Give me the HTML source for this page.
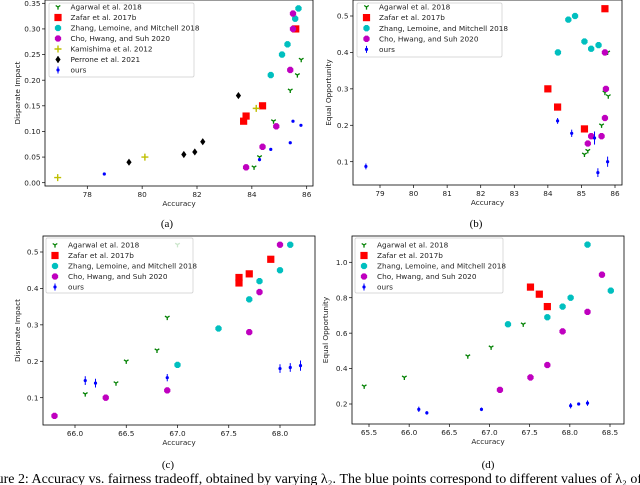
<!DOCTYPE html>
<html><head><meta charset="utf-8">
<style>
html,body{margin:0;padding:0;background:#fff;}
svg{display:block;font-family:"DejaVu Sans","Liberation Sans",sans-serif;}
</style></head>
<body>
<svg id="fig" width="640" height="485" viewBox="0 0 640 485" xmlns="http://www.w3.org/2000/svg">
<text x="167" y="227" font-family="Liberation Serif,serif" font-size="11" text-anchor="middle">(a)</text>
<text x="476" y="227" font-family="Liberation Serif,serif" font-size="11" text-anchor="middle">(b)</text>
<text x="168" y="468" font-family="Liberation Serif,serif" font-size="11" text-anchor="middle">(c)</text>
<text x="488" y="468" font-family="Liberation Serif,serif" font-size="11" text-anchor="middle">(d)</text>
<text x="-22" y="483" font-family="Liberation Serif,serif" font-size="13.5" textLength="664" lengthAdjust="spacingAndGlyphs">Figure 2: Accuracy vs. fairness tradeoff, obtained by varying λ₂. The blue points correspond to different values of λ₂ of</text>
</svg>
<script>
// ---- Panel (a) data ----
const aAgarwalX=[85.8,85.66,85.4,84.79,84.28,84.08];
const aAgarwalY=[0.24,0.21,0.18,0.12,0.05,0.03];
const aZafarX=[85.6,84.39,83.79,83.7];
const aZafarY=[0.30,0.15,0.13,0.12];
const aZhangX=[85.7,85.58,85.3,85.1,84.69];
const aZhangY=[0.34,0.32,0.27,0.25,0.21];
const aChoX=[85.5,85.5,85.4,84.89,84.39,83.79];
const aChoY=[0.33,0.30,0.22,0.11,0.07,0.03];
const aKamX=[76.92,80.1,84.16];
const aKamY=[0.01,0.05,0.145];
const aPerX=[79.52,81.52,81.92,82.21,83.51];
const aPerY=[0.04,0.055,0.06,0.08,0.17];
const aPerErr=[0.005,0.005,0.005,0.005,0.005];
const aOursX=[78.62,84.28,84.69,85.4,85.5,85.79];
const aOursY=[0.017,0.045,0.065,0.078,0.12,0.112];
const aOursErr=[0.002,0.003,0.002,0.002,0.002,0.002];
const aXTicks=[78,80,82,84,86];
const aYTicks=[0,0.05,0.10,0.15,0.20,0.25,0.30,0.35];
// ---- Panel (b) data ----
const bAgarwalX=[85.78,85.7,85.8,85.6,85.19,85.09];
const bAgarwalY=[0.40,0.29,0.28,0.20,0.13,0.12];
const bZafarX=[85.7,84.0,84.29,85.09];
const bZafarY=[0.52,0.30,0.25,0.19];
const bZhangX=[84.3,84.61,84.81,85.09,85.29,85.51];
const bZhangY=[0.40,0.49,0.50,0.43,0.41,0.42];
const bChoX=[85.7,85.73,85.7,85.29,85.6,85.19];
const bChoY=[0.40,0.30,0.22,0.17,0.17,0.15];
const bOursX=[78.58,84.29,84.71,85.39,85.49,85.78];
const bOursY=[0.087,0.212,0.178,0.165,0.07,0.10];
const bOursErr=[0.008,0.008,0.01,0.018,0.012,0.014];
const bXTicks=[79,80,81,82,83,84,85,86];
const bYTicks=[0.1,0.2,0.3,0.4,0.5];
// ---- Panel (c) data ----
const cAgarwalX=[66.1,66.4,66.5,66.8,66.9,67.0];
const cAgarwalY=[0.11,0.14,0.20,0.23,0.32,0.52];
const cZafarX=[67.6,67.6,67.7,67.91];
const cZafarY=[0.415,0.43,0.44,0.48];
const cZhangX=[67.4,67.0,67.7,67.8,68.0,68.1];
const cZhangY=[0.29,0.19,0.37,0.42,0.45,0.52];
const cChoX=[65.8,66.3,66.9,67.7,67.8,68.0];
const cChoY=[0.05,0.10,0.12,0.28,0.39,0.52];
const cOursX=[66.1,66.2,66.9,68.0,68.1,68.2];
const cOursY=[0.147,0.14,0.155,0.18,0.183,0.188];
const cOursErr=[0.012,0.012,0.01,0.012,0.012,0.014];
const cXTicks=[66.0,66.5,67.0,67.5,68.0];
const cYTicks=[0.1,0.2,0.3,0.4,0.5];
// ---- Panel (d) data ----
const dAgarwalX=[65.44,65.94,66.73,67.02,67.42];
const dAgarwalY=[0.30,0.35,0.47,0.52,0.65];
const dZafarX=[67.51,67.62,67.72];
const dZafarY=[0.86,0.82,0.75];
const dZhangX=[67.23,67.72,67.91,68.01,68.22,68.51];
const dZhangY=[0.65,0.69,0.75,0.80,1.10,0.84];
const dChoX=[67.13,67.51,67.72,67.91,68.22,68.4];
const dChoY=[0.28,0.35,0.42,0.61,0.72,0.93];
const dOursX=[66.12,66.22,66.9,68.01,68.11,68.22];
const dOursY=[0.17,0.15,0.17,0.19,0.20,0.205];
const dOursErr=[0.015,0.01,0.01,0.015,0.008,0.015];
const dXTicks=[65.5,66.0,66.5,67.0,67.5,68.0,68.5];
const dYTicks=[0.2,0.4,0.6,0.8,1.0];

const NS="http://www.w3.org/2000/svg";
const svg=document.getElementById('fig');
function mk(tag,attrs,parent){const e=document.createElementNS(NS,tag);for(const k in attrs)e.setAttribute(k,attrs[k]);(parent||svg).appendChild(e);return e;}
const COL={agarwal:'#008000',zafar:'#ff0000',zhang:'#00bfbf',cho:'#bf00bf',kam:'#bfbf00',per:'#000000',ours:'#0000ff'};

function marker(g,type,x,y,col,err){
  let e;
  if(type==='tri'){e=mk('path',{d:`M${x},${y} L${x},${y+2.6} M${x},${y} L${x-2.3},${y-1.5} M${x},${y} L${x+2.3},${y-1.5}`,stroke:col,'stroke-width':1.3,fill:'none'},g);}
  else if(type==='sq'){e=mk('rect',{x:x-3.6,y:y-3.6,width:7.2,height:7.2,fill:col},g);}
  else if(type==='oct'){let p=[];for(let i=0;i<8;i++){const a=Math.PI/8+i*Math.PI/4;p.push((x+3.4*Math.cos(a)).toFixed(2)+','+(y+3.4*Math.sin(a)).toFixed(2));}e=mk('polygon',{points:p.join(' '),fill:col},g);}
  else if(type==='plus'){e=mk('path',{d:`M${x-3.5},${y} L${x+3.5},${y} M${x},${y-3.5} L${x},${y+3.5}`,stroke:col,'stroke-width':1.4},g);}
  else if(type==='dia'){if(err)mk('line',{x1:x,x2:x,y1:err[0],y2:err[1],stroke:col,'stroke-width':1},g);e=mk('polygon',{points:`${x},${y-3.6} ${x+2.6},${y} ${x},${y+3.6} ${x-2.6},${y}`,fill:col},g);}
  else if(type==='dot'){if(err)mk('line',{x1:x,x2:x,y1:err[0],y2:err[1],stroke:col,'stroke-width':1},g);e=mk('circle',{cx:x,cy:y,r:1.6,fill:col},g);}
  return e;
}

function panel(id,cfg,series,xt,yt,xfmt,yfmt,ylabel,legend){
  const g=mk('g',{});
  
  
  const kx=(cfg.xr[1][1]-cfg.xr[0][1])/(cfg.xr[1][0]-cfg.xr[0][0]);
  const ky=(cfg.yr[1][1]-cfg.yr[0][1])/(cfg.yr[1][0]-cfg.yr[0][0]);
  const sx=v=>cfg.xr[0][1]+(v-cfg.xr[0][0])*kx;
  const sy=v=>cfg.yr[0][1]+(v-cfg.yr[0][0])*ky;
  // ticks
  xt.forEach(v=>{const x=sx(v);
    mk('line',{x1:x,x2:x,y1:cfg.b,y2:cfg.b+3,stroke:'#000','stroke-width':0.7},g);
    const t=mk('text',{x:x,y:cfg.b+11,'font-size':7.3,fill:'#222','text-anchor':'middle'},g);t.textContent=xfmt(v);
    
    });
  yt.forEach(v=>{const y=sy(v);
    mk('line',{x1:cfg.l-3,x2:cfg.l,y1:y,y2:y,stroke:'#000','stroke-width':0.7},g);
    const t=mk('text',{x:cfg.l-4.5,y:y+2.6,'font-size':7.3,fill:'#222','text-anchor':'end'},g);t.textContent=yfmt(v);
    
    });
  const xl=mk('text',{x:(cfg.l+cfg.r)/2,y:cfg.b+20,'font-size':7.3,fill:'#222','text-anchor':'middle'},g);xl.textContent='Accuracy';
  
  
  const yc=(cfg.t+cfg.b)/2;
  const yl=mk('text',{x:cfg.yx,y:yc,'font-size':7.3,fill:'#222','text-anchor':'middle',transform:`rotate(-90 ${cfg.yx} ${yc})`},g);yl.textContent=ylabel;
  
  
  // points
  series.forEach(s=>{
    const sg=mk('g',{},g);
    
    
    s.x.forEach((xv,i)=>{
      const px=sx(xv),py=sy(s.y[i]);
      const err=s.err?[sy(s.y[i]+s.err[i]),sy(s.y[i]-s.err[i])]:null;
      const m=marker(sg,s.type,px,py,COL[s.key],err);
      
      
    });
  });
  // legend
  const lg=mk('g',{},g);
  
  
  mk('rect',{x:legend.x,y:legend.y,width:legend.w,height:legend.h,fill:'#fff','fill-opacity':0.8,stroke:'#ccc','stroke-width':0.7,rx:1.5},lg);
  legend.items.forEach((it,i)=>{
    const y=legend.y+legend.y0+i*legend.dy;
    const m=marker(lg,it.type,legend.mx,y,COL[it.key],it.type==='dia'||it.type==='dot'?[y-3.5,y+3.5]:null);
    const t=mk('text',{x:legend.tx,y:y+2.6,'font-size':7.3,fill:'#222'},lg);t.textContent=it.label;
    
    
  });
  // frame
  const fr=mk('rect',{x:cfg.l,y:cfg.t,width:cfg.r-cfg.l,height:cfg.b-cfg.t,fill:'none',stroke:'#000','stroke-width':0.8},g);
  
  
}
const L={agarwal:{key:'agarwal',type:'tri',label:'Agarwal et al. 2018'},zafar:{key:'zafar',type:'sq',label:'Zafar et al. 2017b'},
zhang:{key:'zhang',type:'oct',label:'Zhang, Lemoine, and Mitchell 2018'},cho:{key:'cho',type:'oct',label:'Cho, Hwang, and Suh 2020'},
kam:{key:'kam',type:'plus',label:'Kamishima et al. 2012'},per:{key:'per',type:'dia',label:'Perrone et al. 2021'},ours:{key:'ours',type:'dot',label:'ours'}};
const f2=v=>v.toFixed(2),f1=v=>v.toFixed(1),f0=v=>v.toFixed(0);

panel('a',{xr:[[78,87.3],[86,306.7]],yr:[[0,182.7],[0.35,3.3]],l:45,r:313,t:0,b:186,yx:20},
 [{key:'agarwal',type:'tri',x:aAgarwalX,y:aAgarwalY},{key:'zafar',type:'sq',x:aZafarX,y:aZafarY},{key:'zhang',type:'oct',x:aZhangX,y:aZhangY},
  {key:'cho',type:'oct',x:aChoX,y:aChoY},{key:'kam',type:'plus',x:aKamX,y:aKamY},{key:'per',type:'dia',x:aPerX,y:aPerY,err:aPerErr},
  {key:'ours',type:'dot',x:aOursX,y:aOursY,err:aOursErr}],
 aXTicks,aYTicks,f0,f2,'Disparate Impact',
 {x:49,y:3,w:145,h:74,y0:4,dy:10.5,mx:58,tx:70.5,items:[L.agarwal,L.zafar,L.zhang,L.cho,L.kam,L.per,L.ours]});

panel('b',{xr:[[79,380],[86,615]],yr:[[0.1,161.7],[0.5,16]],l:353,r:622,t:0,b:185,yx:331},
 [{key:'agarwal',type:'tri',x:bAgarwalX,y:bAgarwalY},{key:'zafar',type:'sq',x:bZafarX,y:bZafarY},{key:'zhang',type:'oct',x:bZhangX,y:bZhangY},
  {key:'cho',type:'oct',x:bChoX,y:bChoY},{key:'ours',type:'dot',x:bOursX,y:bOursY,err:bOursErr}],
 bXTicks,bYTicks,f0,f1,'Equal Opportunity',
 {x:357,y:3,w:145,h:54,y0:4,dy:10.6,mx:366.5,tx:379,items:[L.agarwal,L.zafar,L.zhang,L.cho,L.ours]});

panel('c',{xr:[[66,75],[68,280]],yr:[[0.1,397.7],[0.5,252]],l:43,r:315,t:236,b:425,yx:20},
 [{key:'agarwal',type:'tri',x:cAgarwalX,y:cAgarwalY},{key:'zafar',type:'sq',x:cZafarX,y:cZafarY},{key:'zhang',type:'oct',x:cZhangX,y:cZhangY},
  {key:'cho',type:'oct',x:cChoX,y:cChoY},{key:'ours',type:'dot',x:cOursX,y:cOursY,err:cOursErr}],
 cXTicks,cYTicks,f1,f1,'Disparate Impact',
 {x:46,y:238,w:147,h:55,y0:7,dy:10.5,mx:55,tx:68,items:[L.agarwal,L.zafar,L.zhang,L.cho,L.ours]});

panel('d',{xr:[[65.5,369],[68.5,610]],yr:[[0.2,404],[1.0,262.3]],l:352,r:624,t:236,b:424,yx:328},
 [{key:'agarwal',type:'tri',x:dAgarwalX,y:dAgarwalY},{key:'zafar',type:'sq',x:dZafarX,y:dZafarY},{key:'zhang',type:'oct',x:dZhangX,y:dZhangY},
  {key:'cho',type:'oct',x:dChoX,y:dChoY},{key:'ours',type:'dot',x:dOursX,y:dOursY,err:dOursErr}],
 dXTicks,dYTicks,f1,f1,'Equal Opportunity',
 {x:355,y:238,w:148,h:55,y0:7,dy:10.5,mx:364,tx:377,items:[L.agarwal,L.zafar,L.zhang,L.cho,L.ours]});
</script>
</body></html>
